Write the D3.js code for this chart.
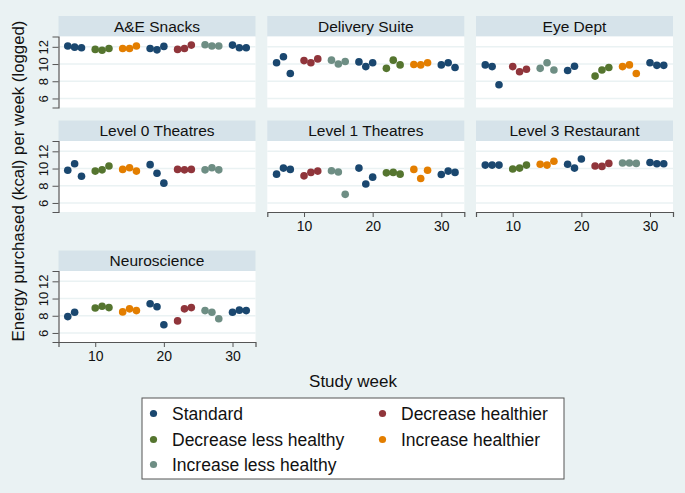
<!DOCTYPE html>
<html><head><meta charset="utf-8">
<script src="https://cdn.jsdelivr.net/npm/d3@7"></script>
<style>body{margin:0;background:#eaf2f3;} svg{display:block;font-family:"Liberation Sans",Arial,sans-serif;}</style>
</head><body>
<svg id="c" width="685" height="493"></svg>
<script>
const weeks = [6,7,8,10,11,12,14,15,16,18,19,20,22,23,24,26,27,28,30,31,32];
const panelNames = ["A&E Snacks","Delivery Suite","Eye Dept","Level 0 Theatres","Level 1 Theatres","Level 3 Restaurant","Neuroscience"];
const armNames = ["Standard","Decrease healthier","Decrease less healthy","Increase healthier","Increase less healthy"];
const armColors = ["#1a476f","#90353b","#55752f","#e37e00","#6e8e84"];
// arm (index into armNames) for each 3-week block, per panel
const armA = [0,2,3,0,1,4,0];
const armB = [0,1,4,0,2,3,0];
const panelArms = [armA, armB, armB, armA, armB, armA, armA];
const aeSnacks   = [12.1,11.96,11.9, 11.7,11.6,11.8, 11.8,11.8,12.1, 11.8,11.65,12.05, 11.7,11.8,12.2, 12.25,12.1,12.1, 12.2,11.9,11.9];
const delivery   = [10.15,10.85,8.9, 10.4,10.15,10.6, 10.45,10.0,10.3, 10.25,9.7,10.15, 9.5,10.45,9.9, 9.95,9.9,10.15, 9.9,10.15,9.6];
const eyeDept    = [9.9,9.7,7.6, 9.7,9.1,9.4, 9.5,10.15,9.3, 9.25,9.75,null, 8.6,9.3,9.6, 9.7,9.9,8.9, 10.15,9.85,9.85];
const level0     = [9.8,10.55,9.1, 9.7,9.85,10.3, 9.9,10.1,9.7, 10.45,9.45,8.3, 9.9,9.85,9.9, 9.85,10.1,9.85, null,null,null];
const level1     = [9.35,10.05,9.9, 9.15,9.55,9.7, 9.75,9.6,7.0, 10.05,8.2,9.0, 9.5,9.55,9.35, 9.9,8.85,9.8, 9.3,9.7,9.55];
const level3     = [10.4,10.4,10.4, 9.95,10.05,10.4, 10.5,10.4,10.85, 10.5,10.05,11.1, 10.3,10.25,10.6, 10.65,10.65,10.6, 10.7,10.55,10.55];
const neuro      = [7.9,8.4,null, 8.9,9.1,8.95, 8.45,8.8,8.6, 9.4,9.05,6.95, 7.4,8.8,8.95, 8.6,8.4,7.65, 8.4,8.65,8.6];
const panelValues = [aeSnacks, delivery, eyeDept, level0, level1, level3, neuro];
const yTicks = [6,8,10,12];
const xTicks = [10,20,30];
const legendOrder = [0,1,2,3,4];

const svg = d3.select("#c");
svg.append("rect").attr("width",685).attr("height",493).attr("fill","#eaf2f3");

const colLeft = [58.5, 267.3, 476];
const rowTop = [16, 120.5, 250.5];
const pw = 197, stripH = 20.5, ph = 71;
const x0 = d3.scaleLinear().domain([4.65, 33.35]).range([0, pw]);
const y0 = d3.scaleLinear().domain([4.95, 13.2]).range([ph, 0]);

panelNames.forEach((name, i) => {
  const col = i % 3, row = Math.floor(i / 3);
  const g = svg.append("g").attr("transform", `translate(${colLeft[col]},${rowTop[row]})`);
  g.append("rect").attr("width", pw).attr("height", stripH).attr("fill", "#d6e3ea");
  g.append("text").attr("x", pw/2).attr("y", stripH/2 + 5.5).attr("text-anchor","middle")
    .attr("font-size", 15.5).attr("fill","#111").text(name);
  const p = g.append("g").attr("transform", `translate(0,${stripH})`);
  p.append("rect").attr("width", pw).attr("height", ph).attr("fill", "#fff");
  p.selectAll("line.grid").data(yTicks).enter().append("line")
    .attr("x1",0).attr("x2",pw).attr("y1",d=>y0(d)).attr("y2",d=>y0(d))
    .attr("stroke","#eaf2f3").attr("stroke-width",1.5);
  if (col === 0) {
    const ax = p.append("g").call(d3.axisLeft(y0).tickValues(yTicks).tickSize(6).tickPadding(3));
    ax.select(".domain").attr("stroke","#555").attr("stroke-width",1.2);
    ax.selectAll(".tick line").attr("stroke","#555");
    ax.selectAll(".tick text").attr("font-size",13).attr("fill","#111")
      .attr("font-family","Liberation Sans, Arial, sans-serif")
      .attr("transform","rotate(-90)").attr("text-anchor","middle")
      .attr("x",0).attr("y",-11).attr("dy","0");
  }
  const hasX = (i >= 4);
  if (hasX) {
    const ax = p.append("g").attr("transform",`translate(0,${ph})`)
      .call(d3.axisBottom(x0).tickValues(xTicks).tickSize(5).tickPadding(4));
    ax.select(".domain").attr("stroke","#555").attr("stroke-width",1.2);
    ax.selectAll(".tick line").attr("stroke","#555");
    ax.selectAll(".tick text").attr("font-size",14).attr("fill","#111")
      .attr("font-family","Liberation Sans, Arial, sans-serif");
  }
  const arms = panelArms[i];
  const pts = weeks.map((w, k) => ({w, v: panelValues[i][k], arm: arms[Math.floor(k/3)]}))
    .filter(d => d.v !== null);
  p.selectAll("circle").data(pts).enter().append("circle")
    .attr("cx", d => x0(d.w)).attr("cy", d => y0(d.v)).attr("r", 3.8)
    .attr("fill", d => armColors[d.arm]);
});

// axis titles
svg.append("text").attr("transform","translate(24,181) rotate(-90)").attr("text-anchor","middle")
  .attr("font-size",16.8).attr("fill","#111").text("Energy purchased (kcal) per week (logged)");
svg.append("text").attr("x",353).attr("y",387).attr("text-anchor","middle")
  .attr("font-size",17).attr("fill","#111").text("Study week");

// legend
const lg = svg.append("g");
lg.append("rect").attr("x",142).attr("y",398).attr("width",422).attr("height",81)
  .attr("fill","#fff").attr("stroke","#555").attr("stroke-width",1);
const legPos = [[153.5,413.5],[382.5,413.5],[153.5,439.5],[382.5,439.5],[153.5,464.5]];
const legItems = [0,1,2,3,4];
lg.selectAll("circle").data(legItems).enter().append("circle")
  .attr("cx",(d,k)=>legPos[k][0]).attr("cy",(d,k)=>legPos[k][1]).attr("r",3.6)
  .attr("fill",d=>armColors[d]);
lg.selectAll("text").data(legItems).enter().append("text")
  .attr("x",(d,k)=>legPos[k][0]+18.5).attr("y",(d,k)=>legPos[k][1]+6)
  .attr("font-size",17.5).attr("fill","#111").text(d=>armNames[d]);
// order: Standard, Decrease healthier / Decrease less healthy, Increase healthier / Increase less healthy
</script>
</body></html>
